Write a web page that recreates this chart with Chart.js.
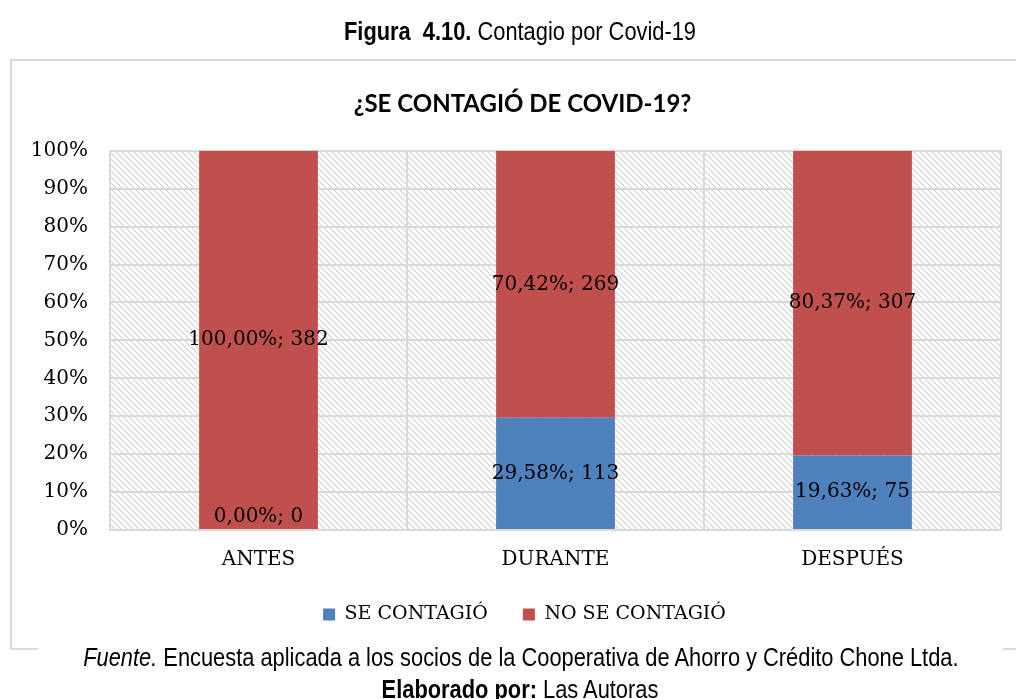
<!DOCTYPE html>
<html>
<head>
<meta charset="utf-8">
<script src="https://cdn.jsdelivr.net/npm/chart.js@4.4.1/dist/chart.umd.min.js"></script>
<style>
  body { margin: 0; background: #fff; }
  #wrap { position: relative; width: 1016px; height: 699px; overflow: hidden; }
  #caja { position: absolute; left: 10px; top: 59px; width: 1020px; height: 587px; border: 2px solid #d9d9d9; }
  #tapa { position: absolute; left: 38px; top: 642px; width: 965px; height: 12px; background: #fff; }
  canvas { position: absolute; left: 0; top: 0; }
  .txt { position: absolute; left: 0; width: 1040px; text-align: center; font-family: "Liberation Sans Narrow", "Liberation Sans", Arial, sans-serif; font-size: 26px; line-height: 26px; color: #000; white-space: nowrap; transform: scaleX(0.84); transform-origin: 520px 0; }
  #figura { top: 18px; }
  #fuente { top: 644px; }
  #autoras { top: 676px; }
</style>
</head>
<body>
<div id="wrap">
  <div id="caja"></div>
  <canvas id="grafico" width="1016" height="699"></canvas>
  <div id="tapa"></div>
  <div class="txt" id="figura"><b>Figura&nbsp; 4.10.</b> Contagio por Covid-19</div>
  <div class="txt" id="fuente"><i>Fuente.</i> Encuesta aplicada a los socios de la Cooperativa de Ahorro y Crédito Chone Ltda.</div>
  <div class="txt" id="autoras"><b>Elaborado por:</b> Las Autoras</div>
</div>
<script>
// datos
var categorias = ['ANTES', 'DURANTE', 'DESPUÉS'];
var seContagio = [0, 113, 75];
var noSeContagio = [382, 269, 307];
var ticksY = [0, 10, 20, 30, 40, 50, 60, 70, 80, 90, 100];

var serif = '"DejaVu Serif", "Liberation Serif", serif';

function porcentajes(serie){
    return serie.map(function(v, i){
        return v / (seContagio[i] + noSeContagio[i]) * 100;
    });
}

// fondo rayado del area del grafico
function crearRayado(){
    var c = document.createElement('canvas');
    c.width = 6; c.height = 6;
    var x = c.getContext('2d');
    x.strokeStyle = '#d4d4d4';
    x.lineWidth = 1.2;
    x.beginPath();
    x.moveTo(-1, -1); x.lineTo(7, 7);
    x.moveTo(-1, 5); x.lineTo(1, 7);
    x.moveTo(5, -1); x.lineTo(7, 1);
    x.stroke();
    return c;
}

var fondoRayado = {
    id: 'fondoRayado',
    beforeDraw: function(chart){
        var a = chart.chartArea;
        var ctx = chart.ctx;
        ctx.save();
        ctx.fillStyle = ctx.createPattern(crearRayado(), 'repeat');
        ctx.fillRect(a.left, a.top, a.right - a.left, a.bottom - a.top);
        ctx.restore();
    }
};

// el titulo y la leyenda no quedan centrados en el lienzo sino en la caja
var moverCajas = {
    id: 'moverCajas',
    afterLayout: function(chart){
        var t = chart.titleBlock;
        t.left += 17; t.right += 17;
        var l = chart.legend;
        l.left += 19; l.right += 19;
        l.top -= 20; l.bottom -= 20;
    }
};

var etiquetas = {
    id: 'etiquetas',
    afterDatasetsDraw: function(chart){
        var ctx = chart.ctx;
        ctx.save();
        ctx.font = '20px ' + serif;
        ctx.fillStyle = '#000';
        ctx.textAlign = 'center';
        ctx.textBaseline = 'middle';
        chart.data.datasets.forEach(function(ds, d){
            var cuentas = d == 0 ? seContagio : noSeContagio;
            chart.getDatasetMeta(d).data.forEach(function(bar, i){
                var y = (bar.y + bar.base) / 2;
                if (ds.data[i] == 0) y = bar.base - 13;
                var texto = ds.data[i].toFixed(2).replace('.', ',') + '%; ' + cuentas[i];
                ctx.fillText(texto, bar.x, y);
            });
        });
        ctx.restore();
    }
};

var ctx = document.getElementById('grafico');
var grafico = new Chart(ctx, {
    type: 'bar',
    data: {
        labels: categorias,
        datasets: [
            { label: 'SE CONTAGIÓ', data: porcentajes(seContagio), backgroundColor: '#4f81bd' },
            { label: 'NO SE CONTAGIÓ', data: porcentajes(noSeContagio), backgroundColor: '#c0504d' }
        ]
    },
    options: {
        responsive: false,
        animation: false,
        categoryPercentage: 1,
        barPercentage: 0.4,
        layout: { padding: { left: 10, right: 15, top: 90, bottom: 45 } },
        scales: {
            x: {
                stacked: true,
                grid: { color: '#d9d9d9', lineWidth: 2, drawTicks: false },
                border: { color: '#d9d9d9', width: 2 },
                ticks: { color: '#000', font: { family: serif, size: 20 }, padding: 18 }
            },
            y: {
                stacked: true,
                min: 0,
                max: 100,
                afterFit: function(scale){ scale.width = 100; },
                afterBuildTicks: function(scale){
                    scale.ticks = ticksY.map(function(v){ return { value: v }; });
                },
                grid: { color: '#d9d9d9', lineWidth: 2, drawTicks: false },
                border: { color: '#d9d9d9', width: 2 },
                ticks: {
                    color: '#000',
                    font: { family: serif, size: 20 },
                    padding: 22,
                    callback: function(v){ return v + '%'; }
                }
            }
        },
        plugins: {
            title: {
                display: true,
                text: '¿SE CONTAGIÓ DE COVID-19?',
                color: '#000',
                font: { family: 'Lato, "Open Sans", sans-serif', size: 24, weight: 'bold' },
                padding: { top: 0, bottom: 32 }
            },
            legend: {
                position: 'bottom',
                labels: {
                    color: '#000',
                    font: { family: serif, size: 19 },
                    boxWidth: 12,
                    boxHeight: 12,
                    padding: 35
                }
            },
            tooltip: { enabled: false }
        }
    },
    plugins: [fondoRayado, moverCajas, etiquetas]
});
</script>
</body>
</html>
